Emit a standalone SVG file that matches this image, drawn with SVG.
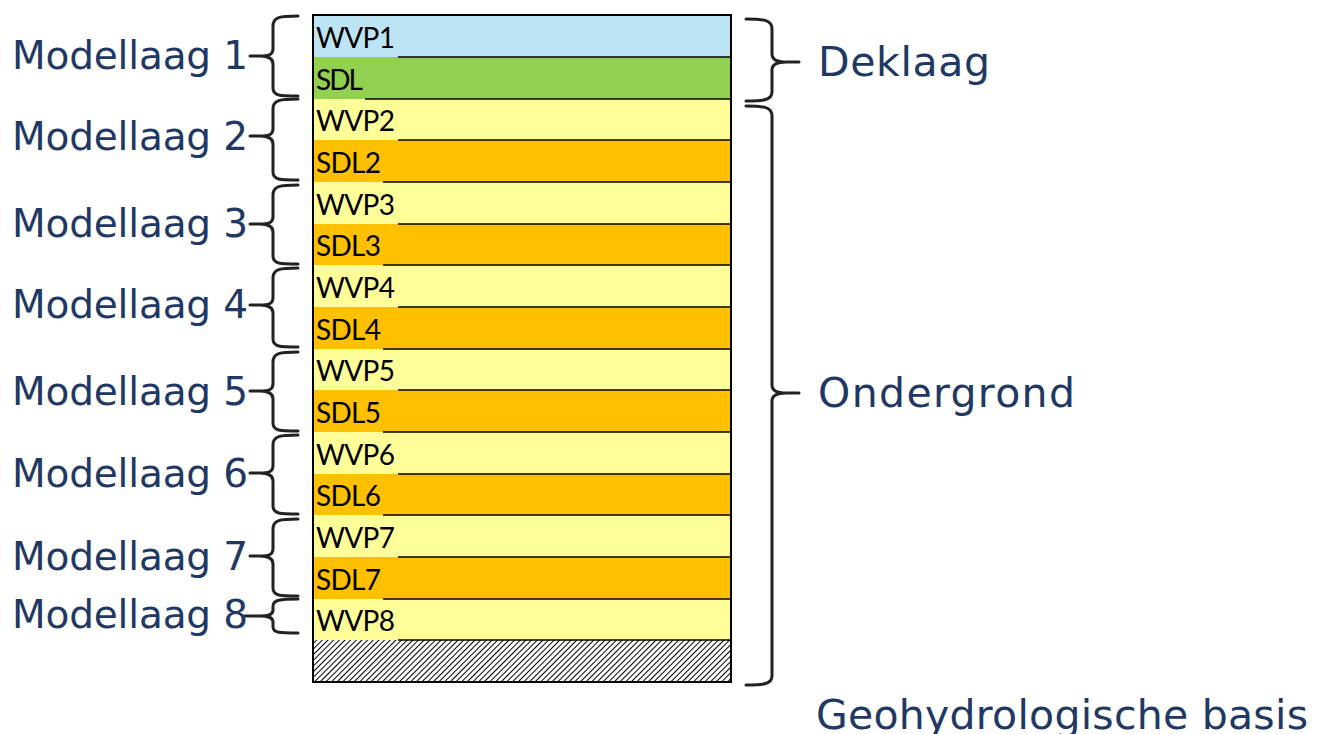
<svg xmlns="http://www.w3.org/2000/svg" width="1329" height="734" viewBox="0 0 1329 734">
<defs>
<pattern id="hatch" width="4" height="4" patternUnits="userSpaceOnUse" patternTransform="rotate(45)">
<rect width="4" height="4" fill="#fff"/>
<line x1="0" y1="0" x2="0" y2="4" stroke="#000" stroke-width="2"/>
</pattern>
<style>
.wvp{fill:#FFFF99}
.sdl{fill:#FFC000}
.sep{stroke:#000;stroke-width:1.6}
.lt{font-family:Lato,"Liberation Sans",Arial,sans-serif;font-size:28px;fill:#000}
.big{font-family:"DejaVu Sans",Verdana,sans-serif;font-size:39px;fill:#1F3864}
.bigr{font-family:"DejaVu Sans",Verdana,sans-serif;font-size:41px;fill:#1F3864}
.br{fill:none;stroke:#222;stroke-width:3;stroke-linecap:round;stroke-linejoin:round}
</style>
</defs>
<rect width="1329" height="734" fill="#fff"/>
<g id="column">
<rect id="wvp1" x="313" y="15" width="418" height="42" fill="#BDE4F4"/>
<rect id="sdl" x="313" y="57" width="418" height="42" fill="#92D050"/>
<rect id="wvp2" class="wvp" x="313" y="99" width="418" height="41"/>
<rect id="sdl2" class="sdl" x="313" y="140" width="418" height="42"/>
<rect id="wvp3" class="wvp" x="313" y="182" width="418" height="42"/>
<rect id="sdl3" class="sdl" x="313" y="224" width="418" height="41"/>
<rect id="wvp4" class="wvp" x="313" y="265" width="418" height="42"/>
<rect id="sdl4" class="sdl" x="313" y="307" width="418" height="42"/>
<rect id="wvp5" class="wvp" x="313" y="349" width="418" height="41"/>
<rect id="sdl5" class="sdl" x="313" y="390" width="418" height="42"/>
<rect id="wvp6" class="wvp" x="313" y="432" width="418" height="42"/>
<rect id="sdl6" class="sdl" x="313" y="474" width="418" height="41"/>
<rect id="wvp7" class="wvp" x="313" y="515" width="418" height="42"/>
<rect id="sdl7" class="sdl" x="313" y="557" width="418" height="42"/>
<rect id="wvp8" class="wvp" x="313" y="599" width="418" height="41"/>
<rect id="basis" x="313" y="640" width="418" height="42" fill="url(#hatch)"/>
<line class="sep" x1="398" y1="57" x2="731" y2="57"/>
<line class="sep" x1="365" y1="99" x2="731" y2="99"/>
<line class="sep" x1="398" y1="140" x2="731" y2="140"/>
<line class="sep" x1="383" y1="182" x2="731" y2="182"/>
<line class="sep" x1="398" y1="224" x2="731" y2="224"/>
<line class="sep" x1="383" y1="265" x2="731" y2="265"/>
<line class="sep" x1="398" y1="307" x2="731" y2="307"/>
<line class="sep" x1="383" y1="349" x2="731" y2="349"/>
<line class="sep" x1="398" y1="390" x2="731" y2="390"/>
<line class="sep" x1="383" y1="432" x2="731" y2="432"/>
<line class="sep" x1="398" y1="474" x2="731" y2="474"/>
<line class="sep" x1="383" y1="515" x2="731" y2="515"/>
<line class="sep" x1="398" y1="557" x2="731" y2="557"/>
<line class="sep" x1="383" y1="599" x2="731" y2="599"/>
<line class="sep" x1="398" y1="640" x2="731" y2="640"/>
<rect x="313" y="15" width="418" height="667" fill="none" stroke="#000" stroke-width="2"/>
<text class="lt" x="316" y="48" textLength="79">WVP1</text>
<text class="lt" x="316" y="90" textLength="47">SDL</text>
<text class="lt" x="316" y="131" textLength="79">WVP2</text>
<text class="lt" x="316" y="173" textLength="65">SDL2</text>
<text class="lt" x="316" y="215" textLength="79">WVP3</text>
<text class="lt" x="316" y="256" textLength="65">SDL3</text>
<text class="lt" x="316" y="298" textLength="79">WVP4</text>
<text class="lt" x="316" y="340" textLength="65">SDL4</text>
<text class="lt" x="316" y="381" textLength="79">WVP5</text>
<text class="lt" x="316" y="423" textLength="65">SDL5</text>
<text class="lt" x="316" y="465" textLength="79">WVP6</text>
<text class="lt" x="316" y="506" textLength="65">SDL6</text>
<text class="lt" x="316" y="548" textLength="79">WVP7</text>
<text class="lt" x="316" y="590" textLength="65">SDL7</text>
<text class="lt" x="316" y="631" textLength="79">WVP8</text>
</g>
<g id="connectors">
<path class="br" d="M298 16 C280 16 273 17 273 26 L273 49 C273 55 268 56 260 56 L250 56 M260 56 C268 56 273 58 273 64 L273 88 C273 96 280 96 298 96"/>
<path class="br" d="M298 99 C280 99 273 100 273 109 L273 129 C273 135 268 136 260 136 L250 136 M260 136 C268 136 273 138 273 144 L273 172 C273 180 280 180 298 180"/>
<path class="br" d="M298 185 C280 185 273 186 273 195 L273 217 C273 223 268 224 260 224 L250 224 M260 224 C268 224 273 226 273 232 L273 256 C273 264 280 264 298 264"/>
<path class="br" d="M298 268 C280 268 273 269 273 278 L273 298 C273 304 268 305 260 305 L250 305 M260 305 C268 305 273 307 273 313 L273 339 C273 347 280 347 298 347"/>
<path class="br" d="M298 352 C280 352 273 353 273 362 L273 384 C273 390 268 391 260 391 L250 391 M260 391 C268 391 273 393 273 399 L273 423 C273 431 280 431 298 431"/>
<path class="br" d="M298 435 C280 435 273 436 273 445 L273 466 C273 472 268 473 260 473 L250 473 M260 473 C268 473 273 475 273 481 L273 506 C273 514 280 514 298 514"/>
<path class="br" d="M298 519 C280 519 273 520 273 529 L273 549 C273 555 268 556 260 556 L250 556 M260 556 C268 556 273 558 273 564 L273 588 C273 596 280 596 298 596"/>
<path class="br" d="M298 599 C280 599 273 600 273 606 L273 610 C273 615 268 616 260 616 L245 616 M260 616 C268 616 273 617 273 622 L273 627 C273 633 280 633 298 633"/>
<path class="br" d="M746 19 C764 19 772 20 772 29 L772 54 C772 60 777 62 786 62 L799 62 M786 62 C777 62 772 64 772 70 L772 92 C772 100 764 101 746 101"/>
<path class="br" d="M746 106 C764 106 772 107 772 116 L772 385 C772 391 777 393 786 393 L799 393 M786 393 C777 393 772 395 772 401 L772 676 C772 684 764 685 746 685"/>
</g>
<g id="labels">
<text class="big" x="12" y="69" textLength="236">Modellaag 1</text>
<text class="big" x="12" y="150" textLength="236">Modellaag 2</text>
<text class="big" x="12" y="237" textLength="236">Modellaag 3</text>
<text class="big" x="12" y="318" textLength="236">Modellaag 4</text>
<text class="big" x="12" y="405" textLength="236">Modellaag 5</text>
<text class="big" x="12" y="487" textLength="236">Modellaag 6</text>
<text class="big" x="12" y="570" textLength="236">Modellaag 7</text>
<text class="big" x="12" y="628" textLength="236">Modellaag 8</text>
<text class="bigr" x="818" y="76" textLength="172">Deklaag</text>
<text class="bigr" x="818" y="407" textLength="257">Ondergrond</text>
<text class="bigr" x="816" y="729" textLength="492">Geohydrologische basis</text>
</g>
</svg>
